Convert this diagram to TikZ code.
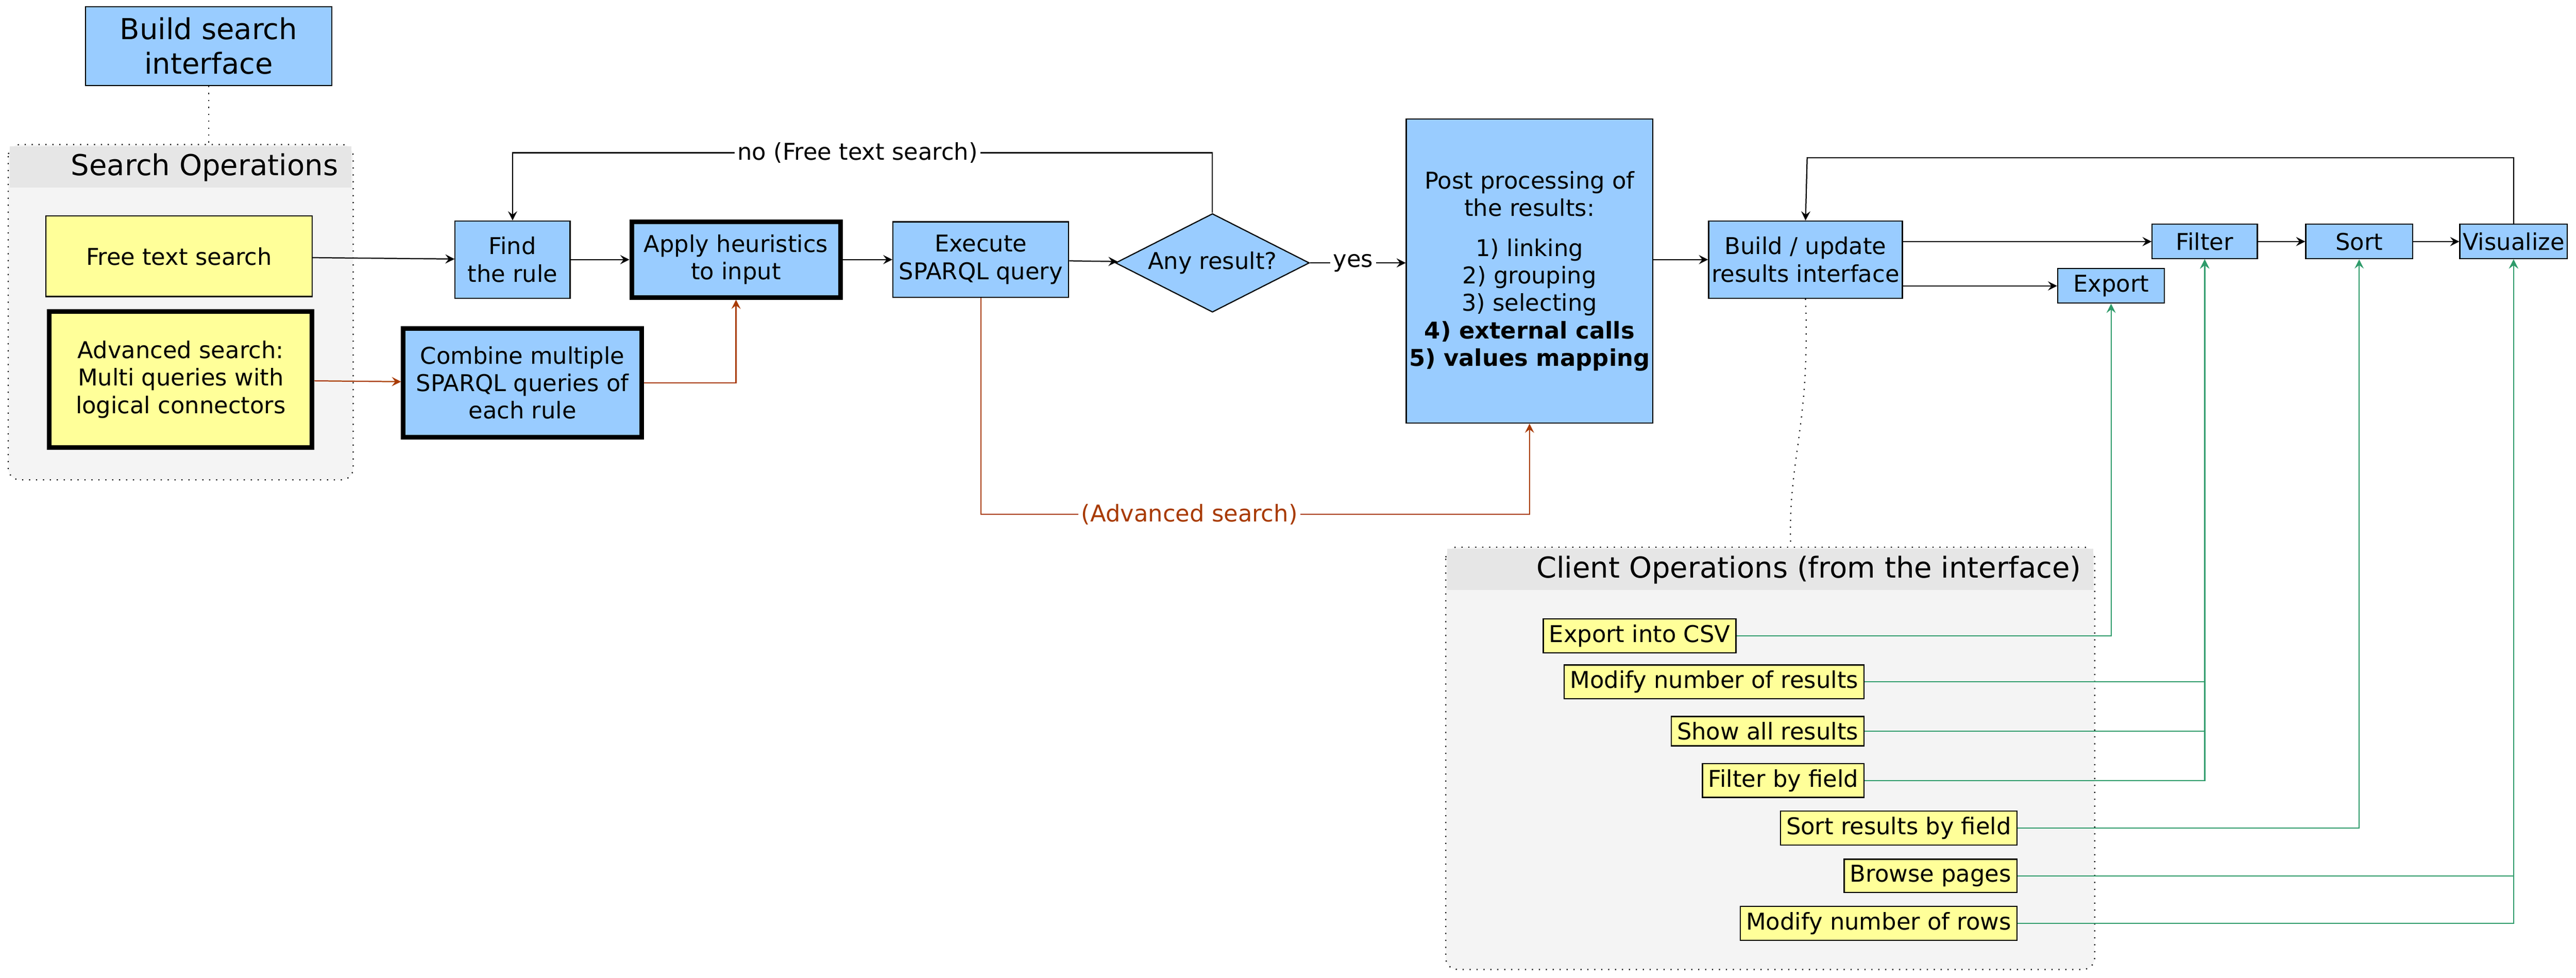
\documentclass[tikz,border=0pt]{standalone}
\usepackage{fontspec}
\setmainfont{DejaVu Sans}
\usetikzlibrary{shapes.geometric,calc}
\definecolor{boxblue}{HTML}{99CCFF}
\definecolor{boxyellow}{HTML}{FFFF99}
\definecolor{advline}{HTML}{A83A00}
\definecolor{cliline}{HTML}{2E9B6A}
\definecolor{groupfill}{HTML}{F4F4F4}
\definecolor{titlefill}{HTML}{E6E6E6}
\tikzset{
  task/.style={draw, fill=boxblue, align=center, inner sep=1pt, font=\fontsize{8}{9.5}\selectfont},
  heavy/.style={line width=1.6pt},
  entry/.style={draw, fill=boxyellow, align=center, inner sep=1pt, font=\fontsize{8}{9.5}\selectfont},
  op/.style={draw, fill=boxyellow, inner sep=2pt, font=\fontsize{8}{9.5}\selectfont, anchor=east},
  flow/.style={->, >=stealth, thin},
  adv/.style={->, >=stealth, advline, thin},
  cli/.style={->, >=stealth, cliline, thin},
  group/.style={draw, dotted, rounded corners=4pt, fill=groupfill},
  lbl/.style={fill=white, inner sep=1pt, font=\fontsize{8}{9.5}\selectfont}
}
\begin{document}
\begin{tikzpicture}[x=0.02cm, y=-0.02cm]
	\useasboundingbox (0,0) rectangle (1568,595);
	% groups
	\draw[group] (5,88) rectangle (215,292);
	\fill[titlefill] (6,89) rectangle (214,114);
	\node[anchor=east, font=\fontsize{10}{12}\selectfont] (searchops) at (212,102) {Search Operations};
	\coordinate (searchtop) at (127,88);
	\draw[group] (880,333) rectangle (1275,590);
	\fill[titlefill] (881,334) rectangle (1274,359);
	\node[anchor=east, font=\fontsize{10}{12}\selectfont] (clientops) at (1273,347) {Client Operations (from the interface)};
	\coordinate (clienttop) at (1090,333);
	% search side
	\node[task, minimum width=3cm, minimum height=0.96cm, font=\fontsize{10}{12}\selectfont] (build) at (127,28) {Build search\\interface};
	\node[entry, minimum width=3.24cm, minimum height=0.98cm] (free) at (109,156) {Free text search};
	\node[entry, heavy, minimum width=3.2cm, minimum height=1.66cm] (advanced) at (110,231) {Advanced search:\\Multi queries with\\logical connectors};
	\node[task, heavy, minimum width=2.9cm, minimum height=1.32cm] (combine) at (318,233) {Combine multiple\\SPARQL queries of\\each rule};
	\node[task, minimum width=1.4cm, minimum height=0.94cm] (find) at (312,158) {Find\\the rule};
	\node[task, heavy, minimum width=2.54cm, minimum height=0.92cm] (apply) at (448,158) {Apply heuristics\\to input};
	\node[task, minimum width=2.14cm, minimum height=0.92cm] (execute) at (597,158) {Execute\\SPARQL query};
	\node[task, diamond, aspect=2, minimum width=2.36cm, minimum height=1.2cm, inner sep=0pt] (anyres) at (738,160) {Any result?};
	\node[task, minimum width=2.86cm, minimum height=3.7cm] (post) at (931,165) {Post processing of\\the results:\\[1ex]1) linking\\2) grouping\\3) selecting\\\textbf{4) external calls}\\\textbf{5) values mapping}};
	\node[task, minimum width=2.36cm, minimum height=0.94cm] (update) at (1099,158) {Build / update\\results interface};
	\node[task, minimum width=1.3cm, minimum height=0.42cm] (export) at (1285,174) {Export};
	\node[task, minimum width=1.28cm, minimum height=0.42cm] (filter) at (1342,147) {Filter};
	\node[task, minimum width=1.3cm, minimum height=0.42cm] (sort) at (1436,147) {Sort};
	\node[task, minimum width=1.3cm, minimum height=0.42cm] (visual) at (1530,147) {Visualize};
	% client operations
	\node[op] (csv) at (1057,387) {Export into CSV};
	\node[op] (modres) at (1135,415) {Modify number of results};
	\node[op] (showall) at (1135,445) {Show all results};
	\node[op] (byfield) at (1135,475) {Filter by field};
	\node[op] (sortres) at (1228,504) {Sort results by field};
	\node[op] (browse) at (1228,533) {Browse pages};
	\node[op] (modrows) at (1228,562) {Modify number of rows};
	% connectors
	\draw[dotted] (build) -- (searchtop);
	\draw[flow] (free) -- (find);
	\draw[flow] (find) -- (apply);
	\draw[adv] (advanced) -- (combine);
	\draw[adv] (combine.east) -| (apply.south);
	\draw[flow] (apply) -- (execute);
	\draw[flow] (execute) -- (anyres);
	\draw[flow] (anyres.north) |- (522,93) node[lbl] {no (Free text search)} -| (find.north);
	\draw[flow] (anyres.east) -- node[lbl, pos=0.45] {yes} (post.west |- anyres.east);
	\draw[adv] (execute.south) |- (724,313) node[lbl] {(Advanced search)} -| (post.south);
	\draw[flow] (post.east |- update.west) -- (update.west);
	\draw[flow] (update.east |- filter) -- (filter);
	\draw[flow] (update.east |- export) -- (export);
	\draw[flow] (filter) -- (sort);
	\draw[flow] (sort) -- (visual);
	\draw[flow] (visual.north) |- (1100,96) -- (update.north);
	\draw[dotted] (update.south) .. controls (1102,260) and (1088,280) .. (clienttop);
	\draw[cli] (csv) -| (export.south);
	\draw[cli] (modres) -| (filter.south);
	\draw[cli] (showall) -| (filter.south);
	\draw[cli] (byfield) -| (filter.south);
	\draw[cli] (sortres) -| (sort.south);
	\draw[cli] (browse) -| (visual.south);
	\draw[cli] (modrows) -| (visual.south);
\end{tikzpicture}
\end{document}
